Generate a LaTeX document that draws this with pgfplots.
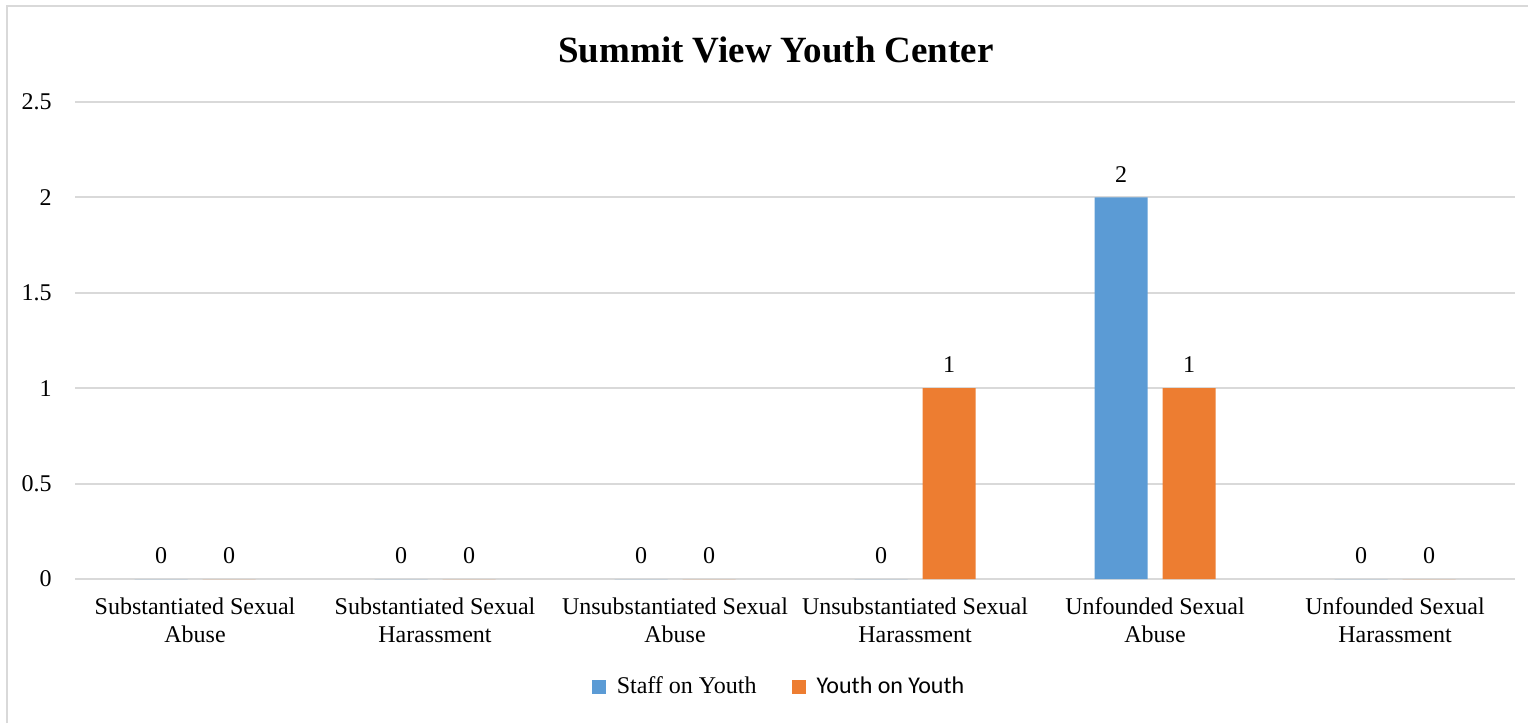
\documentclass[border=0pt]{standalone}
\usepackage{pgfplots}
\pgfplotsset{compat=1.18}
\usepackage{fontspec}
\setmainfont{Liberation Serif}
\setsansfont{Carlito}
\definecolor{cblue}{HTML}{5B9BD5}
\definecolor{corange}{HTML}{ED7D31}
\definecolor{cgrid}{HTML}{D9D9D9}
\begin{document}
\begin{tikzpicture}[x=1bp,y=1bp]
\draw[cgrid, line width=1bp] (3.5,-361.5) -- (3.5,-3) -- (764,-3);
\node[anchor=base, inner sep=0pt, font=\bfseries\fontsize{18.5bp}{22bp}\selectfont] at (388,-31) {Summit View Youth Center};
\begin{axis}[
  at={(37.5bp,-289.5bp)}, anchor=south west,
  scale only axis, width=720bp, height=238.5bp,
  xmin=-0.5, xmax=5.5, ymin=0, ymax=2.5,
  ytick={0,0.5,1,1.5,2,2.5},
  xtick={0,1,2,3,4,5},
  xticklabels={{Substantiated Sexual\\Abuse},{Substantiated Sexual\\Harassment},{Unsubstantiated Sexual\\Abuse},{Unsubstantiated Sexual\\Harassment},{Unfounded Sexual\\Abuse},{Unfounded Sexual\\Harassment}},
  axis x line=bottom, axis y line=left,
  x axis line style={cgrid, line width=1bp, -},
  y axis line style={draw=none},
  major tick length=0pt, tick style={draw=none},
  ymajorgrids, grid style={cgrid, line width=1bp},
  /pgf/number format/assume math mode=true,
  ticklabel style={font=\fontsize{12bp}{14bp}\selectfont},
  yticklabel style={anchor=east, inner sep=0pt, xshift=-11.5bp},
  xticklabel style={anchor=north, inner sep=0pt, yshift=-9.3bp, align=center},
  ybar=7.5bp, bar width=26.5bp,
  nodes near coords,
  every node near coord/.append style={font=\fontsize{12bp}{14bp}\selectfont, inner sep=0pt, anchor=south, yshift=7.5bp, text=black},
  legend style={at={(0.4896,-0.2264)}, anchor=center, draw=none, fill=none, inner sep=0pt,
    font=\fontsize{12bp}{14bp}\selectfont,
    /tikz/every odd column/.append style={column sep=3.5bp},
    /tikz/every even column/.append style={column sep=15.5bp}},
  legend columns=2,
  legend cell align=left,
]
\addplot[fill=cblue, draw=none, legend image code/.code={\fill[cblue] (0bp,-3.5bp) rectangle (7bp,3.5bp);}]
  coordinates {(0,0) (1,0) (2,0) (3,0) (4,2) (5,0)};
\addlegendentry{\textrm{Staff on Youth}}
\addplot[fill=corange, draw=none, legend image code/.code={\fill[corange] (0bp,-3.5bp) rectangle (7bp,3.5bp);}]
  coordinates {(0,0) (1,0) (2,0) (3,1) (4,1) (5,0)};
\addlegendentry{\textsf{Youth on Youth}}
\end{axis}
\pgfresetboundingbox
\path[use as bounding box] (0,0) rectangle (764,-361.5);
\end{tikzpicture}
\end{document}
